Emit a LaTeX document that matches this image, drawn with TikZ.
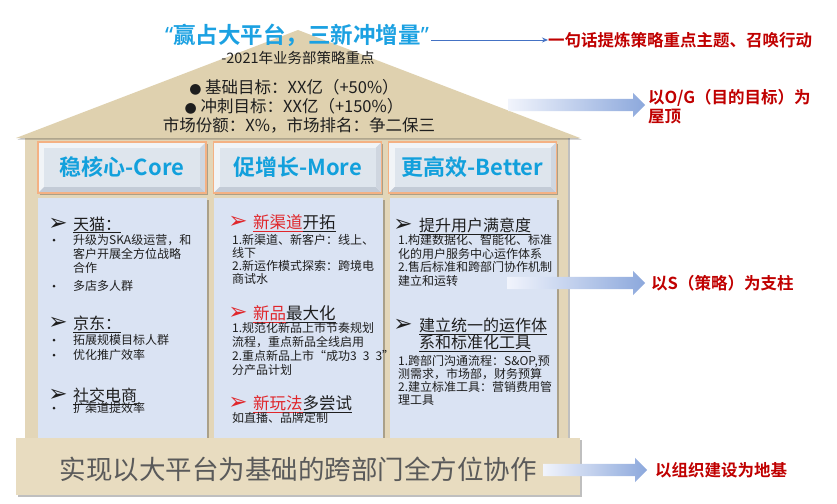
\documentclass[tikz,border=0pt]{standalone}
\usepackage{fontspec}
\setmainfont{Noto Sans CJK SC}[BoldFont={Noto Sans CJK SC Bold}]
\newfontfamily\dejavu{DejaVu Sans}
\newfontfamily\latinf{Noto Sans}
\usetikzlibrary{shapes.arrows,shadows,arrows.meta}
\definecolor{titleblue}{HTML}{1BA1E2}
\definecolor{hdrblue}{HTML}{12A0DC}
\definecolor{darkred}{HTML}{C00000}
\definecolor{cred}{HTML}{E0262B}
\definecolor{panelc}{HTML}{DAE3F3}
\definecolor{wallc}{HTML}{E3D6B8}
\definecolor{roofc}{HTML}{DFD1AF}
\definecolor{foundc}{HTML}{E8DCC0}
\definecolor{hdrorange}{HTML}{F4B183}
\definecolor{hdrlight}{HTML}{F1F4F7}
\definecolor{hdrinner}{HTML}{DEE5ED}
\definecolor{hdrdark}{HTML}{C3CBD6}
\definecolor{hdrmid}{HTML}{CFD6E0}
\definecolor{arrlight}{HTML}{F1F4FC}
\definecolor{arrblue}{HTML}{8CA8DC}
\definecolor{lineblue}{HTML}{4472C4}
\definecolor{txt}{HTML}{1E1E1E}
\definecolor{foundtxt}{HTML}{5A5A5A}
\newcommand\myfs[2]{\fontsize{#1}{#2}\selectfont}
\newcommand\rdot{{\dejavu\myfs{14}{16}●}}
\tikzset{
  shd/.style={drop shadow={shadow xshift=1.5pt,shadow yshift=-1.5pt,opacity=0.25,fill=black}},
  hdr/.style={minimum width=168pt, minimum height=51pt, inner sep=0pt, fill=hdrlight,
    draw=hdrorange, line width=1.2pt, text=hdrblue, font=\myfs{22}{26}\bfseries, shd,
    path picture={
      \fill[hdrdark] (path picture bounding box.south west) -- (path picture bounding box.south east)
        -- ([shift={(-6pt,6pt)}]path picture bounding box.south east) -- ([shift={(6pt,6pt)}]path picture bounding box.south west) -- cycle;
      \fill[hdrmid] (path picture bounding box.south east) -- (path picture bounding box.north east)
        -- ([shift={(-6pt,-6pt)}]path picture bounding box.north east) -- ([shift={(-6pt,6pt)}]path picture bounding box.south east) -- cycle;
      \fill[hdrinner] ([shift={(6pt,-6pt)}]path picture bounding box.north west) rectangle ([shift={(-6pt,6pt)}]path picture bounding box.south east);
    }},
  panel/.style={fill=panelc, draw=none, shd},
  garrow/.style={single arrow, single arrow head extend=6pt, inner xsep=0pt, inner ysep=6pt,
    minimum width=0pt, left color=arrlight, right color=arrblue, draw=none, anchor=tail},
  lbl/.style={anchor=west, inner sep=0pt, text=darkred, font=\myfs{16.5}{20}\bfseries},
  rooftxt/.style={inner sep=0pt, text=txt, font=\myfs{16.5}{20}},
  hd/.style={anchor=base west, inner sep=0pt, text=txt, font=\myfs{16}{19}},
  ar/.style={inner sep=0pt, text=txt, font=\dejavu\myfs{23}{25}},
  bu/.style={circle, fill=txt, inner sep=0pt, minimum size=3pt},
  bd/.style={anchor=north west, inner sep=0pt, align=left, text=txt, font=\myfs{12}{13.5}},
}
\begin{document}
\begin{tikzpicture}[x=1pt,y=-1pt]
\useasboundingbox[fill=white] (0,0) rectangle (837,503);
% wall
\fill[wallc, shd] (25,136) rectangle (568,440);
% roof
\fill[roofc, shd] (16,138) -- (298,30) -- (580,138) -- cycle;
% headers
\node[hdr] (h1) at (122,167.5) {稳核心-Core};
\node[hdr] (h2) at (297.5,167.5) {促增长-More};
\node[hdr] (h3) at (472.5,167.5) {更高效-Better};
% panels
\path[panel] (38,198) rectangle (207,438);
\path[panel] (214,198) rectangle (383,438);
\path[panel] (390,198) rectangle (557,438);
% foundation
\fill[foundc, shd] (16,438) rectangle (580,495);
\node[inner sep=0pt, text=foundtxt, font=\myfs{26.5}{31}] (found) at (298,469) {实现以大平台为基础的跨部门全方位协作};

% title and roof text
\node[inner sep=2pt, text=titleblue, font=\myfs{22.5}{26}\bfseries] (title) at (297,35) {{\latinf\bfseries “}赢占大平台，三新冲增量{\latinf\bfseries ”}};
\node[inner sep=0pt, text=txt, font=\myfs{14.5}{17}] (sub) at (298,58) {-2021年业务部策略重点};
\node[rooftxt] (g1) at (294,87) {\rdot\ 基础目标：XX亿（+50\%）};
\node[rooftxt] (g2) at (294,106) {\rdot\ 冲刺目标：XX亿（+150\%）};
\node[rooftxt] (g3) at (299,125) {市场份额：X\%，市场排名：争二保三};

% right labels
\node[lbl] (ltop) at (548,40) {一句话提炼策略重点主题、召唤行动};
\draw[lineblue, line width=0.9pt, -{Stealth[length=6pt,width=5pt]}] (title.east |- ltop.west) -- (ltop.west);
\node[garrow, minimum height=137pt] (a1) at (508,105) {};
\node[lbl] (lroof1) at (648,98) {以O/G（目的目标）为};
\node[lbl] (lroof2) at (648,117) {屋顶};
\node[garrow, minimum height=138pt] (a2) at (507,283) {};
\node[lbl] (lstrat) at (651,283) {以S（策略）为支柱};
\node[garrow, minimum height=104pt] (a3) at (543,470) {};
\node[lbl] (lfound) at (655,470) {以组织建设为地基};

% column 1
\node[ar] (c1a1) at (58,224) {➢};
\node[hd] (c1h1) at (73,230) {\underline{天猫：}};
\node[bu] (c1b1) at (54,240) {};
\node[bd, font=\myfs{12}{14}] (c1t1) at (73,234) {升级为SKA级运营，和\\客户开展全方位战略\\合作};
\node[bu] (c1b2) at (54,286) {};
\node[bd] (c1t2) at (73,280) {多店多人群};
\node[ar] (c1a2) at (58,323) {➢};
\node[hd] (c1h2) at (73,329) {\underline{京东：}};
\node[bu] (c1b3) at (54,340) {};
\node[bd] (c1t3) at (73,334) {拓展规模目标人群};
\node[bu] (c1b4) at (54,355) {};
\node[bd] (c1t4) at (73,349) {优化推广效率};
\node[ar] (c1a3) at (58,395) {➢};
\node[hd] (c1h3) at (73,401) {\underline{社交电商}};
\node[bu] (c1b5) at (54,408) {};
\node[bd] (c1t5) at (73,402) {扩渠道提效率};

% column 2
\node[ar, text=cred] (c2a1) at (238,222) {➢};
\node[hd, font=\myfs{16.5}{19}] (c2h1) at (253,228) {{\color{cred}\underline{新渠道}}\underline{开拓}};
\node[bd, font=\myfs{12}{13}] (c2t1) at (232,234) {1.新渠道、新客户：线上、\\线下\\2.新运作模式探索：跨境电\\商试水};
\node[ar, text=cred] (c2a2) at (238,313) {➢};
\node[hd, font=\myfs{16.5}{19}] (c2h2) at (253,319) {{\color{cred}\underline{新品}}\underline{最大化}};
\node[bd, font=\myfs{12}{14}] (c2t2) at (232,322) {1.规范化新品上市节奏规划\\流程，重点新品全线启用\\2.重点新品上市“成功3\enspace 3\enspace 3”\\分产品计划};
\node[ar, text=cred] (c2a3) at (238,403) {➢};
\node[hd, font=\myfs{16.5}{19}] (c2h3) at (253,409) {{\color{cred}\underline{新玩法}}\underline{多尝试}};
\node[bd] (c2t3) at (232,412) {如直播、品牌定制};

% column 3
\node[ar] (c3a1) at (403,225) {➢};
\node[hd] (c3h1) at (419,231) {\underline{提升用户满意度}};
\node[bd, font=\myfs{12}{13.7}] (c3t1) at (398,234) {1.构建数据化、智能化、标准\\化的用户服务中心运作体系\\2.售后标准和跨部门协作机制\\建立和运转};
\node[ar] (c3a2) at (403,325) {➢};
\node[hd] (c3h2) at (419,331) {\underline{建立统一的运作体}};
\node[hd] (c3h3) at (419,348) {\underline{系和标准化工具}};
\node[bd, font=\myfs{12}{13}] (c3t2) at (398,355) {1.跨部门沟通流程：S\&OP,预\\测需求，市场部，财务预算\\2.建立标准工具：营销费用管\\理工具};
\end{tikzpicture}
\end{document}
